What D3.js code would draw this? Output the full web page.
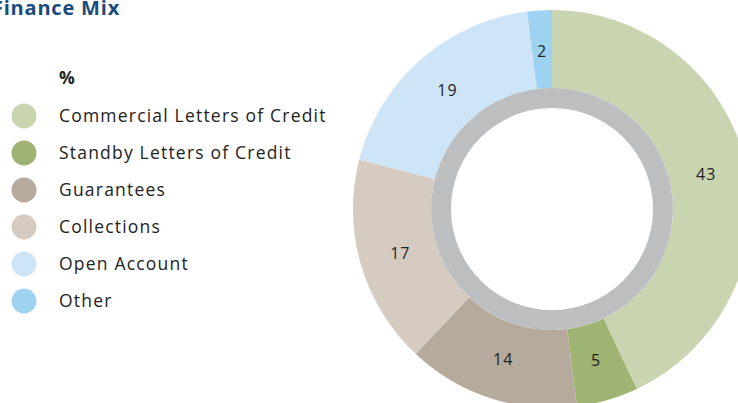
<!DOCTYPE html>
<html>
<head>
<meta charset="utf-8">
<script src="https://cdn.jsdelivr.net/npm/d3@7"></script>
<style>
  html, body { margin: 0; padding: 0; background: #fff; overflow: hidden; }
  svg { display: block; font-family: "Open Sans", sans-serif; }
  .title { font-weight: 700; fill: #1a4b7d; font-size: 20px; letter-spacing: 0.8px; }
  .legend text { font-size: 17.5px; fill: #222; letter-spacing: 1.2px; }
  .unit { font-weight: 700; font-size: 14px; fill: #222; }
  .label { font-size: 16px; fill: #222; letter-spacing: 1px; }
</style>
</head>
<body>
<div class="chart"></div>
<script>
var categories = ["Commercial Letters of Credit", "Standby Letters of Credit", "Guarantees",
                  "Collections", "Open Account", "Other"];
var values = [43, 5, 14, 17, 19, 2];
var colors = ["#c9d5b0", "#9fb372", "#b6aa9d", "#d5cbc1", "#cde5f6", "#9dd3f0"];

var width = 738, height = 403;
var cx = 552, cy = 209;
var outerR = 199, innerR = 121, holeR = 101, labelR = 158;

var svg = d3.select(".chart").append("svg")
    .attr("width", width)
    .attr("height", height);

svg.append("text")
    .attr("class", "title")
    .attr("x", 120)
    .attr("y", 15)
    .attr("text-anchor", "end")
    .text("Finance Mix");

// legend
var legend = svg.append("g").attr("class", "legend");

legend.append("text")
    .attr("class", "unit")
    .attr("x", 59)
    .attr("y", 84)
    .text("%");

var rows = legend.selectAll("g.row")
    .data(categories)
  .enter().append("g")
    .attr("class", "row")
    .attr("transform", function(d, i) { return "translate(0," + (116 + i * 37) + ")"; });

rows.append("circle")
    .attr("cx", 24)
    .attr("r", 12.5)
    .attr("fill", function(d, i) { return colors[i]; });

rows.append("text")
    .attr("x", 59)
    .attr("dy", "0.35em")
    .text(function(d) { return d; });

// donut
var pie = d3.pie().sort(null).value(function(d) { return d; });
var arcs = pie(values);

var arc = d3.arc().innerRadius(innerR).outerRadius(outerR);
var labelArc = d3.arc().innerRadius(labelR).outerRadius(labelR);

var donut = svg.append("g")
    .attr("transform", "translate(" + cx + "," + cy + ")");

donut.selectAll("path.slice")
    .data(arcs)
  .enter().append("path")
    .attr("class", "slice")
    .attr("d", arc)
    .attr("fill", function(d, i) { return colors[i]; });

donut.append("circle")
    .attr("r", (innerR + holeR) / 2)
    .attr("fill", "#fff")
    .attr("stroke", "#bdbec0")
    .attr("stroke-width", innerR - holeR);

donut.selectAll("text.label")
    .data(arcs)
  .enter().append("text")
    .attr("class", "label")
    .attr("transform", function(d) { return "translate(" + labelArc.centroid(d) + ")"; })
    .attr("text-anchor", "middle")
    .attr("dy", "0.35em")
    .text(function(d) { return d.value; });
</script>
</body>
</html>
